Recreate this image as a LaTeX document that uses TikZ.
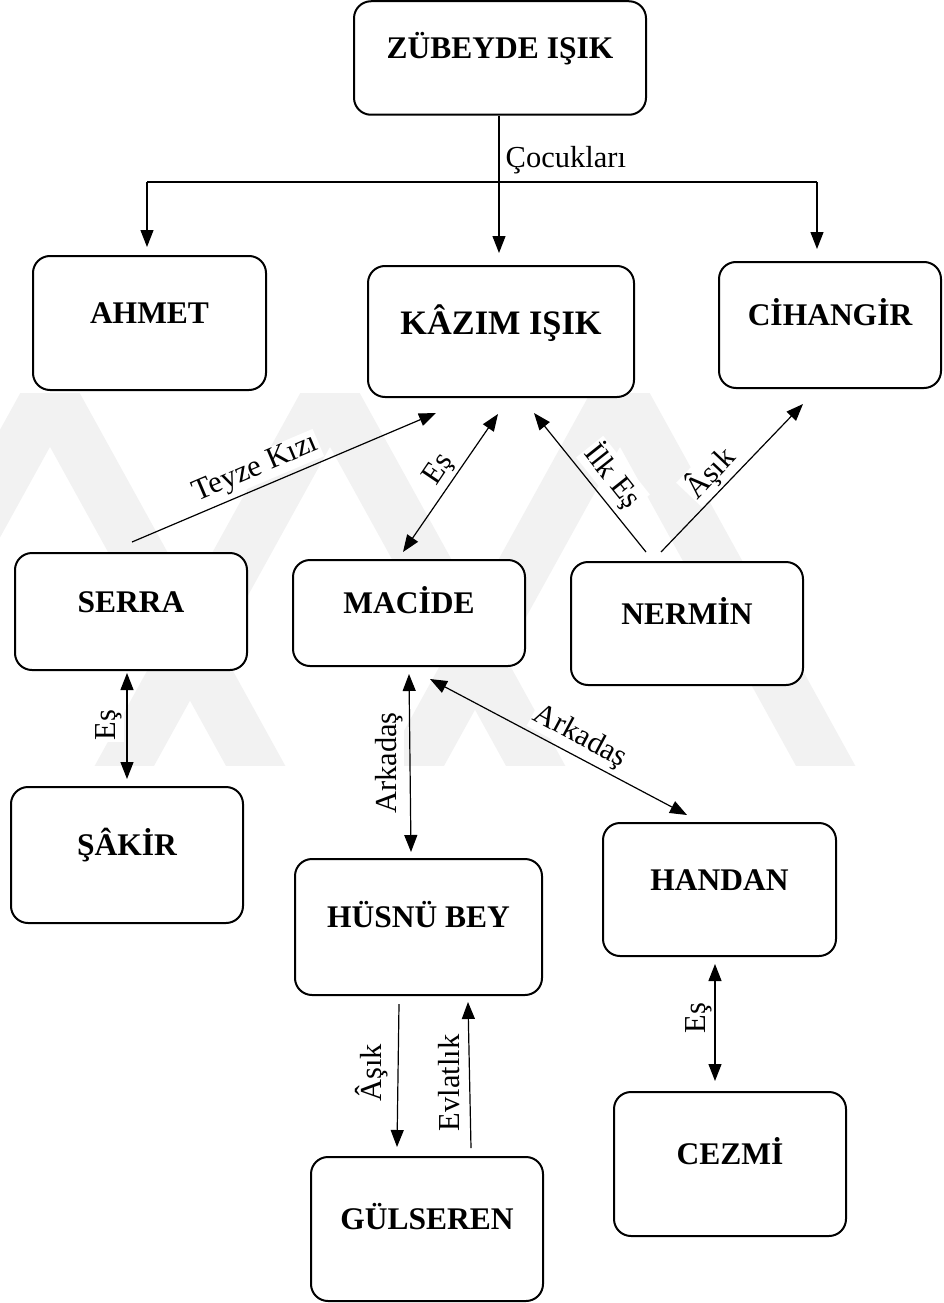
\documentclass[tikz,border=0pt]{standalone}
\usepackage{fontspec}
\setmainfont{Liberation Serif}
\usetikzlibrary{arrows.meta,calc}
\tikzset{
 box/.style={draw, line width=2pt, rounded corners=17pt, fill=white, text height=21pt, text depth=20pt,
   font=\bfseries\fontsize{31.5}{32}\selectfont, inner sep=0pt},
 bigbox/.style={box, text height=22.5pt, text depth=17pt, font=\bfseries\fontsize{34.3}{35}\selectfont},
 lab/.style={font=\fontsize{30.5}{31}\selectfont, fill=white, inner sep=1.5pt},
 plainlab/.style={font=\fontsize{30.5}{31}\selectfont, inner sep=1.5pt},
 conn/.style={line width=1.2pt},
 arr/.style={conn, -{Triangle[length=17pt,width=13pt]}},
 darr/.style={conn, {Triangle[length=17pt,width=13pt]}-{Triangle[length=17pt,width=13pt]}},
 wm/.style={line width=52pt, color=black!5, line join=miter},
}
\begin{document}
\begin{tikzpicture}[x=1pt,y=-1pt]
\useasboundingbox (0,0) rectangle (943,1303);
% faint watermark
\begin{scope}
 \clip (0,393) rectangle (943,765);
 \foreach \a in {50,330,620} \draw[wm] (\a-230,810) -- (\a,393) -- (\a+230,810);
\end{scope}
% boxes
\node[box, minimum width=292pt, minimum height=113.5pt] (zubeyde) at (500,58) {ZÜBEYDE IŞIK};
\node[box, minimum width=233pt, minimum height=134pt] (ahmet) at (149.5,323) {AHMET};
\node[bigbox, minimum width=266pt, minimum height=131pt] (kazim) at (501,331.5) {KÂZIM IŞIK};
\node[box, minimum width=222pt, minimum height=126pt] (cihangir) at (830,325) {CİHANGİR};
\node[box, minimum width=232pt, minimum height=117pt] (serra) at (131,611.5) {SERRA};
\node[box, minimum width=232pt, minimum height=106pt] (macide) at (409,613) {MACİDE};
\node[box, minimum width=232pt, minimum height=123pt] (nermin) at (687,623.5) {NERMİN};
\node[box, minimum width=232pt, minimum height=136pt] (sakir) at (127,855) {ŞÂKİR};
\node[box, minimum width=247pt, minimum height=136pt] (husnu) at (418.5,927) {HÜSNÜ BEY};
\node[box, minimum width=233pt, minimum height=133pt] (handan) at (719.5,889.5) {HANDAN};
\node[box, minimum width=232pt, minimum height=144pt] (cezmi) at (730,1164) {CEZMİ};
\node[box, minimum width=232pt, minimum height=144pt] (gulseren) at (427,1229) {GÜLSEREN};
% children tree
\coordinate (junc) at (499,182);
\coordinate (jl) at (147,182);
\coordinate (jr) at (817,182);
\draw[conn] ([xshift=-1pt]zubeyde.south) -- (junc);
\draw[conn] (jl) -- (jr);
\draw[arr] (jl) -- ($(ahmet.north)+(-2.5,-8)$);
\draw[arr] (junc) -- ($(kazim.north)+(-2,-12)$);
\draw[arr] (jr) -- ($(cihangir.north)+(-13,-12)$);
\node[plainlab, anchor=west] (l-cocuk) at (504,160) {Çocukları};
% relations around Kazim
\draw[arr] ($(serra.north)+(1,-10)$) -- ($(kazim.south)+(-65,15)$);
\node[lab, rotate=23] (l-teyze) at (256,469) {Teyze Kızı};
\draw[darr] ($(macide.north)+(-6,-7)$) -- ($(kazim.south)+(-3,16)$);
\node[lab, rotate=56] (l-es1) at (439,470) {Eş};
\draw[arr] ($(nermin.north)+(-41,-9)$) -- ($(kazim.south)+(33,15)$);
\node[lab, rotate=-51.5] (l-ilkes) at (613,476) {İlk Eş};
\draw[arr] ($(nermin.north)+(-26,-9)$) -- ($(cihangir.south)+(-27,15)$);
\node[lab, rotate=46.6] (l-asik1) at (710,473) {Âşık};
% lower relations
\draw[darr] ($(serra.south)+(-4,2)$) -- ($(sakir.north)+(0,-7)$);
\node[lab, rotate=90] (l-es2) at (109,725) {Eş};
\draw[darr] ($(macide.south)+(0,7)$) -- ($(husnu.north)+(-7.5,-6)$);
\node[lab, rotate=90] (l-ark1) at (389,763) {Arkadaş};
\draw[darr] ($(macide.south)+(21,12)$) -- ($(handan.north)+(-32.5,-7)$);
\node[lab, rotate=-28.2] (l-ark2) at (580,737) {Arkadaş};
\draw[arr] ($(husnu.south)+(-19.5,8)$) -- ($(gulseren.north)+(-30,-9)$);
\node[lab, rotate=90] (l-asik2) at (372,1073) {Âşık};
\draw[arr] ($(gulseren.north)+(44,-8)$) -- ($(husnu.south)+(49.5,6)$);
\node[lab, rotate=90] (l-evlat) at (449,1083) {Evlatlık};
\draw[darr] ($(handan.south)+(-4.5,7)$) -- ($(cezmi.north)+(-15,-10)$);
\node[lab, rotate=90] (l-es3) at (699,1018) {Eş};
\end{tikzpicture}
\end{document}
